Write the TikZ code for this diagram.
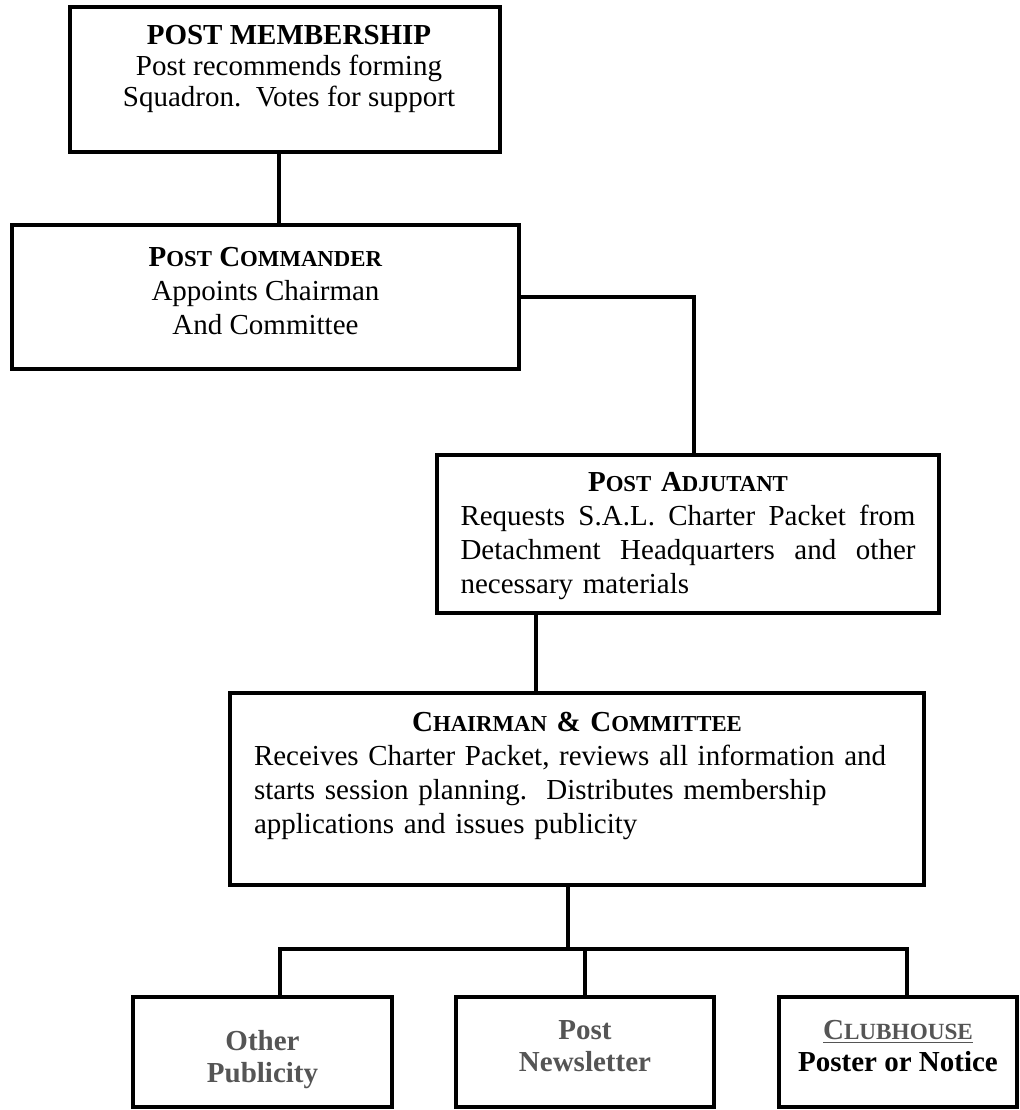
\documentclass[tikz,border=0pt]{standalone}
\usepackage{fontspec}
\setmainfont{Liberation Serif}
\definecolor{pubgray}{RGB}{85,85,85}
\newcommand{\fakesc}[3][11.4pt]{#2{\fontsize{#1}{#1}\selectfont #3}}

\begin{document}
\begin{tikzpicture}[x=0.5pt,y=-0.5pt,
        box/.style={draw,rectangle,line width=2.3pt,inner sep=0pt},
        txt/.style={align=center,font=\fontsize{14.5pt}{17pt}\selectfont},
        pub/.style={align=center,font=\fontsize{14.5pt}{16pt}\selectfont\bfseries,text=pubgray},
        link/.style={line width=2.3pt}
        ]
        \useasboundingbox (0,0) rectangle (1019,1110);

        \node[box,minimum width=215pt,minimum height=72.5pt] (memb) at (285,79.5) {};
        \node[txt,font=\fontsize{14.5pt}{15.5pt}\selectfont] (membtxt) at (289,69)
            {\textbf{POST MEMBERSHIP}\\Post recommends forming\\Squadron.\ \ Votes for support};

        \node[box,minimum width=253.5pt,minimum height=72pt] (cmdr) at (265.5,297) {};
        \node[txt] (cmdrtxt) at (265.5,291)
            {\textbf{\fakesc{P}{OST} \fakesc{C}{OMMANDER}}\\Appoints Chairman\\And Committee};

        \node[box,minimum width=251pt,minimum height=79pt] (adj) at (688,534) {};
        \node[txt,align=left,text width=227.5pt] (adjtxt) at (688,536)
            {\makebox[227.5pt]{\textbf{\fakesc{P}{OST} \fakesc{A}{DJUTANT}}}\\
             \makebox[227.5pt][s]{Requests\hfill S.A.L.\hfill Charter\hfill Packet\hfill from}\\
             \makebox[227.5pt][s]{Detachment\hfill Headquarters\hfill and\hfill other}\\
             necessary materials};

        \node[box,minimum width=347pt,minimum height=96pt] (chair) at (577,789) {};
        \node[txt,align=left,text width=323pt] (chairtxt) at (577,776)
            {\makebox[323pt]{\textbf{\fakesc{C}{HAIRMAN} \& \fakesc{C}{OMMITTEE}}}\\
             Receives Charter Packet, reviews all information and\\
             starts session planning.\ \ Distributes membership\\
             applications and issues publicity};

        \node[box,minimum width=129.5pt,minimum height=55pt] (other) at (262.5,1052) {};
        \node[pub] (othertxt) at (262.5,1060) {Other\\Publicity};

        \node[box,minimum width=129pt,minimum height=55pt] (news) at (585,1052) {};
        \node[pub] (newstxt) at (585,1046) {Post\\Newsletter};

        \node[box,minimum width=119pt,minimum height=55pt] (club) at (898,1052) {};
        \node[pub] (clubtxt) at (898,1046)
            {\underline{\fakesc[11.6pt]{C}{LUBHOUSE}}\\\textcolor{black}{Poster or Notice}};

        % connectors
        \coordinate (j1) at (279,0);
        \coordinate (j2) at (536,0);
        \coordinate (bus) at (568,949);
        \coordinate (busL) at (280,949);
        \coordinate (busR) at (907,949);

        \draw[link] (memb.south -| j1) -- (cmdr.north -| j1);
        \draw[link] (cmdr.east) -| ([xshift=3pt]adj.north);
        \draw[link] (adj.south -| j2) -- (chair.north -| j2);
        \draw[link] (chair.south -| bus) -- (bus);
        \draw[link] (other.north -| busL) -- (busL) -- (busR) -- (club.north -| busR);
        \draw[link] (news.north) -- (news.north |- bus);

    \end{tikzpicture}
\end{document}
